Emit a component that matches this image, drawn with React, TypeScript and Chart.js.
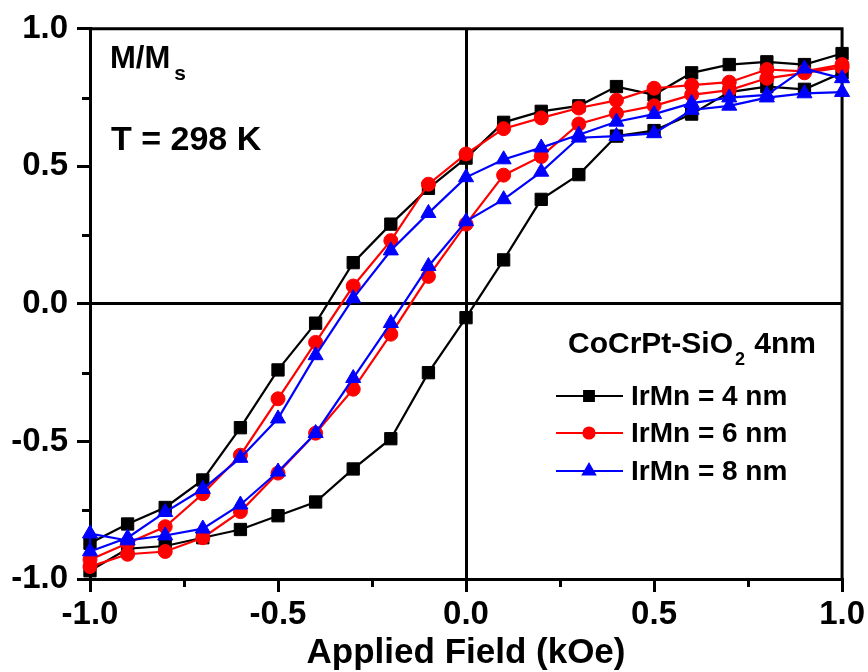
import { useEffect, useRef } from 'react';
import { Chart, registerables } from 'chart.js';
import { drawPoint } from 'chart.js/helpers';

Chart.register(...registerables);

const FONT = '"Liberation Sans", Arial, Helvetica, sans-serif';

// Applied field (kOe)
const fieldKOe = [-1.0, -0.9, -0.8, -0.7, -0.6, -0.5, -0.4, -0.3, -0.2, -0.1, 0.0, 0.1, 0.2, 0.3, 0.4, 0.5, 0.6, 0.7, 0.8, 0.9, 1.0];

// IrMn = 4 nm : descending-field branch and ascending-field branch (listed by increasing field)
const irmn4Descending = [-0.87, -0.80, -0.74, -0.64, -0.45, -0.24, -0.07, 0.15, 0.29, 0.42, 0.53, 0.66, 0.70, 0.72, 0.79, 0.76, 0.84, 0.87, 0.88, 0.87, 0.91];
const irmn4Ascending = [-0.97, -0.89, -0.88, -0.85, -0.82, -0.77, -0.72, -0.60, -0.49, -0.25, -0.05, 0.16, 0.38, 0.47, 0.61, 0.63, 0.69, 0.77, 0.79, 0.78, 0.84];

// IrMn = 6 nm
const irmn6Descending = [-0.93, -0.87, -0.81, -0.69, -0.55, -0.345, -0.14, 0.065, 0.23, 0.435, 0.545, 0.637, 0.676, 0.712, 0.74, 0.784, 0.795, 0.806, 0.852, 0.845, 0.87];
const irmn6Ascending = [-0.955, -0.91, -0.90, -0.85, -0.755, -0.615, -0.47, -0.31, -0.11, 0.10, 0.29, 0.468, 0.536, 0.654, 0.693, 0.72, 0.76, 0.777, 0.82, 0.84, 0.86];

// IrMn = 8 nm
const irmn8Descending = [-0.90, -0.85, -0.757, -0.673, -0.56, -0.417, -0.187, 0.02, 0.194, 0.33, 0.46, 0.525, 0.568, 0.615, 0.662, 0.69, 0.73, 0.75, 0.76, 0.855, 0.82];
const irmn8Ascending = [-0.835, -0.86, -0.842, -0.817, -0.73, -0.61, -0.47, -0.27, -0.07, 0.137, 0.30, 0.38, 0.48, 0.604, 0.61, 0.62, 0.705, 0.72, 0.75, 0.765, 0.77];

const seriesLabels = ['IrMn = 4 nm', 'IrMn = 6 nm', 'IrMn = 8 nm'];
const seriesColors = ['#000000', '#ff0000', '#0000ff'];
const seriesPointStyles = ['rect', 'circle', 'triangle'];
const seriesPointRadius = [8.7, 7, 8.7];

const xTickValues = [-1.0, -0.5, 0.0, 0.5, 1.0];
const yTickValues = [-1.0, -0.5, 0.0, 0.5, 1.0];
const minorTickValues = [-0.75, -0.25, 0.25, 0.75];

const xAxisTitle = 'Applied Field (kOe)';
const legendTitleMain = 'CoCrPt-SiO';
const legendTitleSub = '2';
const legendTitleTail = ' 4nm';
const magLabelMain = 'M/M';
const magLabelSub = 's';
const tempLabel = 'T = 298 K';

function loopPoints(desc: number[], asc: number[]) {
  const pts: { x: number; y: number }[] = [];
  for (let i = fieldKOe.length - 1; i >= 0; i--) pts.push({ x: fieldKOe[i], y: desc[i] });
  for (let i = 0; i < fieldKOe.length; i++) pts.push({ x: fieldKOe[i], y: asc[i] });
  return pts;
}

const loops = [
  loopPoints(irmn4Descending, irmn4Ascending),
  loopPoints(irmn6Descending, irmn6Ascending),
  loopPoints(irmn8Descending, irmn8Ascending),
];

const decorPlugin = {
  id: 'decor',
  beforeDatasetsDraw(chart: any) {
    const ctx = chart.ctx;
    const { left, top, right, bottom } = chart.chartArea;
    const xs = chart.scales.x;
    const ys = chart.scales.y;
    ctx.save();
    ctx.strokeStyle = '#000';
    ctx.lineWidth = 3;
    ctx.beginPath();
    ctx.moveTo(left - 1.5, top);
    ctx.lineTo(right, top);
    ctx.lineTo(right, bottom + 1.5);
    ctx.stroke();
    minorTickValues.forEach((v) => {
      const px = Math.round(xs.getPixelForValue(v)) + 0.5;
      ctx.beginPath();
      ctx.moveTo(px, bottom);
      ctx.lineTo(px, bottom + 8);
      ctx.stroke();
      const py = Math.round(ys.getPixelForValue(v)) + 0.5;
      ctx.beginPath();
      ctx.moveTo(left, py);
      ctx.lineTo(left - 8, py);
      ctx.stroke();
    });
    ctx.restore();
  },
  afterDraw(chart: any) {
    const ctx = chart.ctx;
    ctx.save();
    ctx.fillStyle = '#000';
    ctx.textAlign = 'left';
    ctx.textBaseline = 'alphabetic';
    // M/Ms
    ctx.font = `bold 31px ${FONT}`;
    ctx.fillText(magLabelMain, 110, 68);
    const mw = ctx.measureText(magLabelMain).width;
    ctx.font = `bold 21px ${FONT}`;
    ctx.fillText(magLabelSub, 110 + mw + 4, 80);
    // Temperature
    ctx.font = `bold 34px ${FONT}`;
    ctx.fillText(tempLabel, 111, 150);
    // Legend title
    ctx.font = `bold 30px ${FONT}`;
    const tx = 568;
    ctx.fillText(legendTitleMain, tx, 353);
    const w1 = ctx.measureText(legendTitleMain).width;
    ctx.font = `bold 18px ${FONT}`;
    ctx.fillText(legendTitleSub, tx + w1 + 2, 365);
    const w2 = ctx.measureText(legendTitleSub).width;
    ctx.font = `bold 30px ${FONT}`;
    ctx.fillText(legendTitleTail, tx + w1 + w2 + 3, 353);
    // Legend entries
    const rowY = [396, 433, 471];
    seriesLabels.forEach((label, i) => {
      const y = rowY[i];
      ctx.strokeStyle = seriesColors[i];
      ctx.fillStyle = seriesColors[i];
      ctx.lineWidth = 2;
      ctx.beginPath();
      ctx.moveTo(556, y);
      ctx.lineTo(623, y);
      ctx.stroke();
      drawPoint(ctx, { pointStyle: seriesPointStyles[i] as any, rotation: 0, radius: seriesPointRadius[i] * 0.8, borderWidth: 1 }, 589, y);
      ctx.fillStyle = '#000';
      ctx.font = `bold 28px ${FONT}`;
      ctx.textBaseline = 'middle';
      ctx.fillText(label, 631, y + 1);
      ctx.textBaseline = 'alphabetic';
    });
    ctx.restore();
  },
};

export default function App() {
  const canvasRef = useRef<HTMLCanvasElement | null>(null);

  useEffect(() => {
    if (!canvasRef.current) return;
    const datasets = loops.map((pts, i) => ({
      label: seriesLabels[i],
      data: pts,
      showLine: true,
      borderColor: seriesColors[i],
      backgroundColor: seriesColors[i],
      borderWidth: 2.2,
      pointStyle: seriesPointStyles[i],
      pointRadius: seriesPointRadius[i],
      pointBackgroundColor: seriesColors[i],
      pointBorderColor: seriesColors[i],
      pointBorderWidth: 1,
      order: 2 - i,
      clip: false as any,
    }));

    const tickFont = { family: FONT, size: 33, weight: 'bold' as const };
    const gridCfg = {
      color: (c: any) => (c.tick && c.tick.value === 0 ? '#000' : 'rgba(0,0,0,0)'),
      lineWidth: 3,
      tickLength: 13,
      tickColor: '#000',
      tickWidth: 3,
      drawTicks: true,
    };

    const chart = new Chart(canvasRef.current, {
      type: 'scatter',
      data: { datasets },
      plugins: [decorPlugin],
      options: {
        animation: false,
        responsive: false,
        devicePixelRatio: 1,
        layout: { padding: { left: 0, top: 23, right: 24, bottom: 0 } },
        plugins: { legend: { display: false }, tooltip: { enabled: false } },
        scales: {
          x: {
            type: 'linear',
            min: -1,
            max: 1,
            afterBuildTicks: (s: any) => {
              s.ticks = xTickValues.map((v) => ({ value: v }));
            },
            afterFit: (s: any) => {
              s.height = 93;
            },
            ticks: {
              color: '#000',
              font: tickFont,
              padding: 3,
              maxRotation: 0,
              autoSkip: false,
              callback: (v: any) => Number(v).toFixed(1),
            },
            grid: gridCfg,
            border: { display: true, width: 3, color: '#000' },
            title: {
              display: true,
              text: xAxisTitle,
              color: '#000',
              font: { family: FONT, size: 35, weight: 'bold', lineHeight: 1 },
              padding: { top: 0, bottom: 1 },
            },
          },
          y: {
            type: 'linear',
            min: -1,
            max: 1,
            afterBuildTicks: (s: any) => {
              s.ticks = yTickValues.map((v) => ({ value: v }));
            },
            afterFit: (s: any) => {
              s.width = 90;
            },
            ticks: {
              color: '#000',
              font: tickFont,
              padding: 9,
              autoSkip: false,
              callback: (v: any) => Number(v).toFixed(1),
            },
            grid: gridCfg,
            border: { display: true, width: 3, color: '#000' },
          },
        },
      },
    } as any);
    return () => chart.destroy();
  }, []);

  return (
    <div style={{ position: 'absolute', left: 0, top: 0, width: 868, height: 672, background: '#fff' }}>
      <canvas ref={canvasRef} width={868} height={672} />
    </div>
  );
}
